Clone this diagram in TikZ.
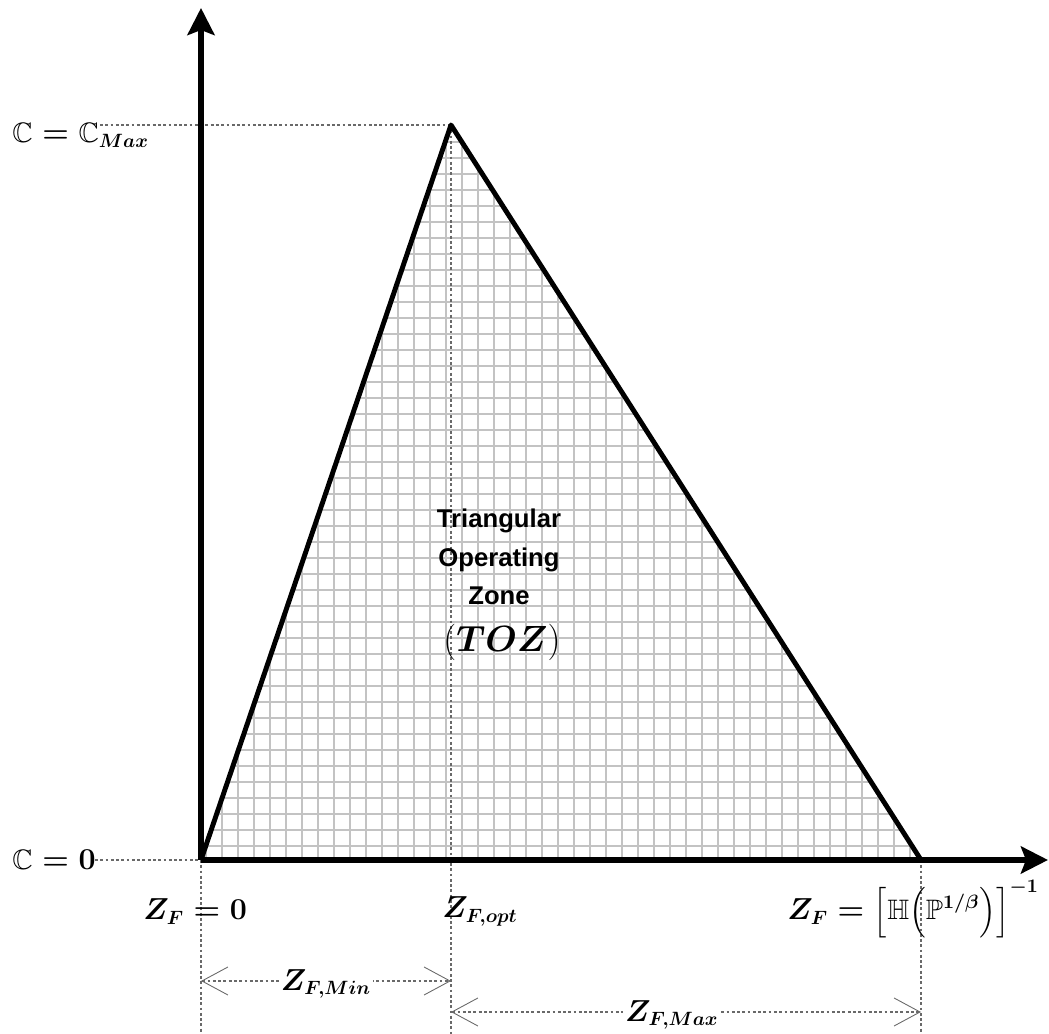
\documentclass[tikz,border=0pt]{standalone}
\usepackage{amsmath,amssymb}
\usepackage{fontspec}
\newfontfamily\zonefont{Liberation Sans}
\usetikzlibrary{arrows.meta,positioning}
\definecolor{GridGray}{RGB}{195,195,195}
\definecolor{GuideGray}{RGB}{105,105,105}
\tikzset{
    axis/.style={line width=3.2pt, -{Stealth[length=0.54cm, width=0.54cm, inset=0.1cm]}},
    edge/.style={line width=2.8pt, line join=round},
    guide/.style={GuideGray, line width=0.6pt, dash pattern=on 1.6pt off 1.4pt},
    dimline/.style={guide, {Straight Barb[length=0.52cm, width=0.56cm, line width=0.5pt]}-{Straight Barb[length=0.52cm, width=0.56cm, line width=0.5pt]}},
    mathlabel/.style={font=\fontsize{16}{19}\selectfont\boldmath, inner sep=0pt, anchor=base west},
    zonelabel/.style={font=\zonefont\bfseries\fontsize{14.6}{17}\selectfont, inner sep=0pt, anchor=base},
    dimlabel/.style={font=\fontsize{16}{19}\selectfont\boldmath, text=black, fill=white, inner sep=1pt, yshift=-0.06cm}
}

\begin{document}
\begin{tikzpicture}
\useasboundingbox (-4.02,-3.48) rectangle (16.96,17.2);

\coordinate (origin) at (0,0);
\coordinate (apex) at (5.0,14.7);
\coordinate (base-right) at (14.4,0);
\coordinate (y-tip) at (0,17.04);
\coordinate (x-tip) at (16.94,0);
\coordinate (origin-foot) at (0,-3.48);
\coordinate (apex-foot) at (5.0,-3.48);
\coordinate (right-foot) at (14.4,-3.48);
\coordinate (cmax-start) at (-2.02,14.7);
\coordinate (czero-start) at (-2.12,0);
\coordinate (min-left) at (0,-2.42);
\coordinate (min-right) at (5.0,-2.42);
\coordinate (max-left) at (5.0,-3.04);
\coordinate (max-right) at (14.4,-3.04);

% operating zone
\fill[white] (origin) -- (apex) -- (base-right) -- cycle;
\begin{scope}
    \clip (origin) -- (apex) -- (base-right) -- cycle;
    \draw[GridGray, line width=1.1pt, step=0.32, shift={(0.094,0.28)}] (-0.64,-0.64) grid (15,15);
\end{scope}

% guide lines
\draw[guide] (cmax-start) -- (apex);
\draw[guide] (czero-start) -- (origin);
\draw[guide] (origin) -- (origin-foot);
\draw[guide] (apex) -- (apex-foot);
\draw[guide] (base-right) -- (right-foot);

\draw[edge] (origin) -- (apex) -- (base-right);
\draw[axis] (origin) -- (y-tip);
\draw[axis] (origin) -- (x-tip);

\node[mathlabel] (cmax) at (-3.78,14.34) {$\mathbb{C} = \mathbb{C}_{Max}$};
\node[mathlabel] (czero) at (-3.78,-0.2) {$\mathbb{C} = 0$};
\node[mathlabel] (zf-zero) at (-1.16,-1.2) {$Z_F = 0$};
\node[mathlabel] (zf-opt) at (4.82,-1.16) {$Z_{F,opt}$};
\node[mathlabel] (zf-inv) at (11.72,-1.2) {$Z_F = \Bigl[\mathbb{H}\Bigl(\mathbb{P}^{1/\beta}\Bigr)\Bigr]^{-1}$};

\draw[dimline] (min-left) -- (min-right) node[dimlabel, pos=0.5] (zf-min) {$Z_{F,Min}$};
\draw[dimline] (max-left) -- (max-right) node[dimlabel, pos=0.47] (zf-max) {$Z_{F,Max}$};

\node[zonelabel] (zone-1) at (5.96,6.64) {Triangular};
\node[zonelabel] (zone-2) at (5.96,5.86) {Operating};
\node[zonelabel] (zone-3) at (5.96,5.10) {Zone};
\node[zonelabel, font=\fontsize{21}{24}\selectfont] (toz) at (6.02,4.16) {$(\boldsymbol{TOZ})$};

\end{tikzpicture}
\end{document}
